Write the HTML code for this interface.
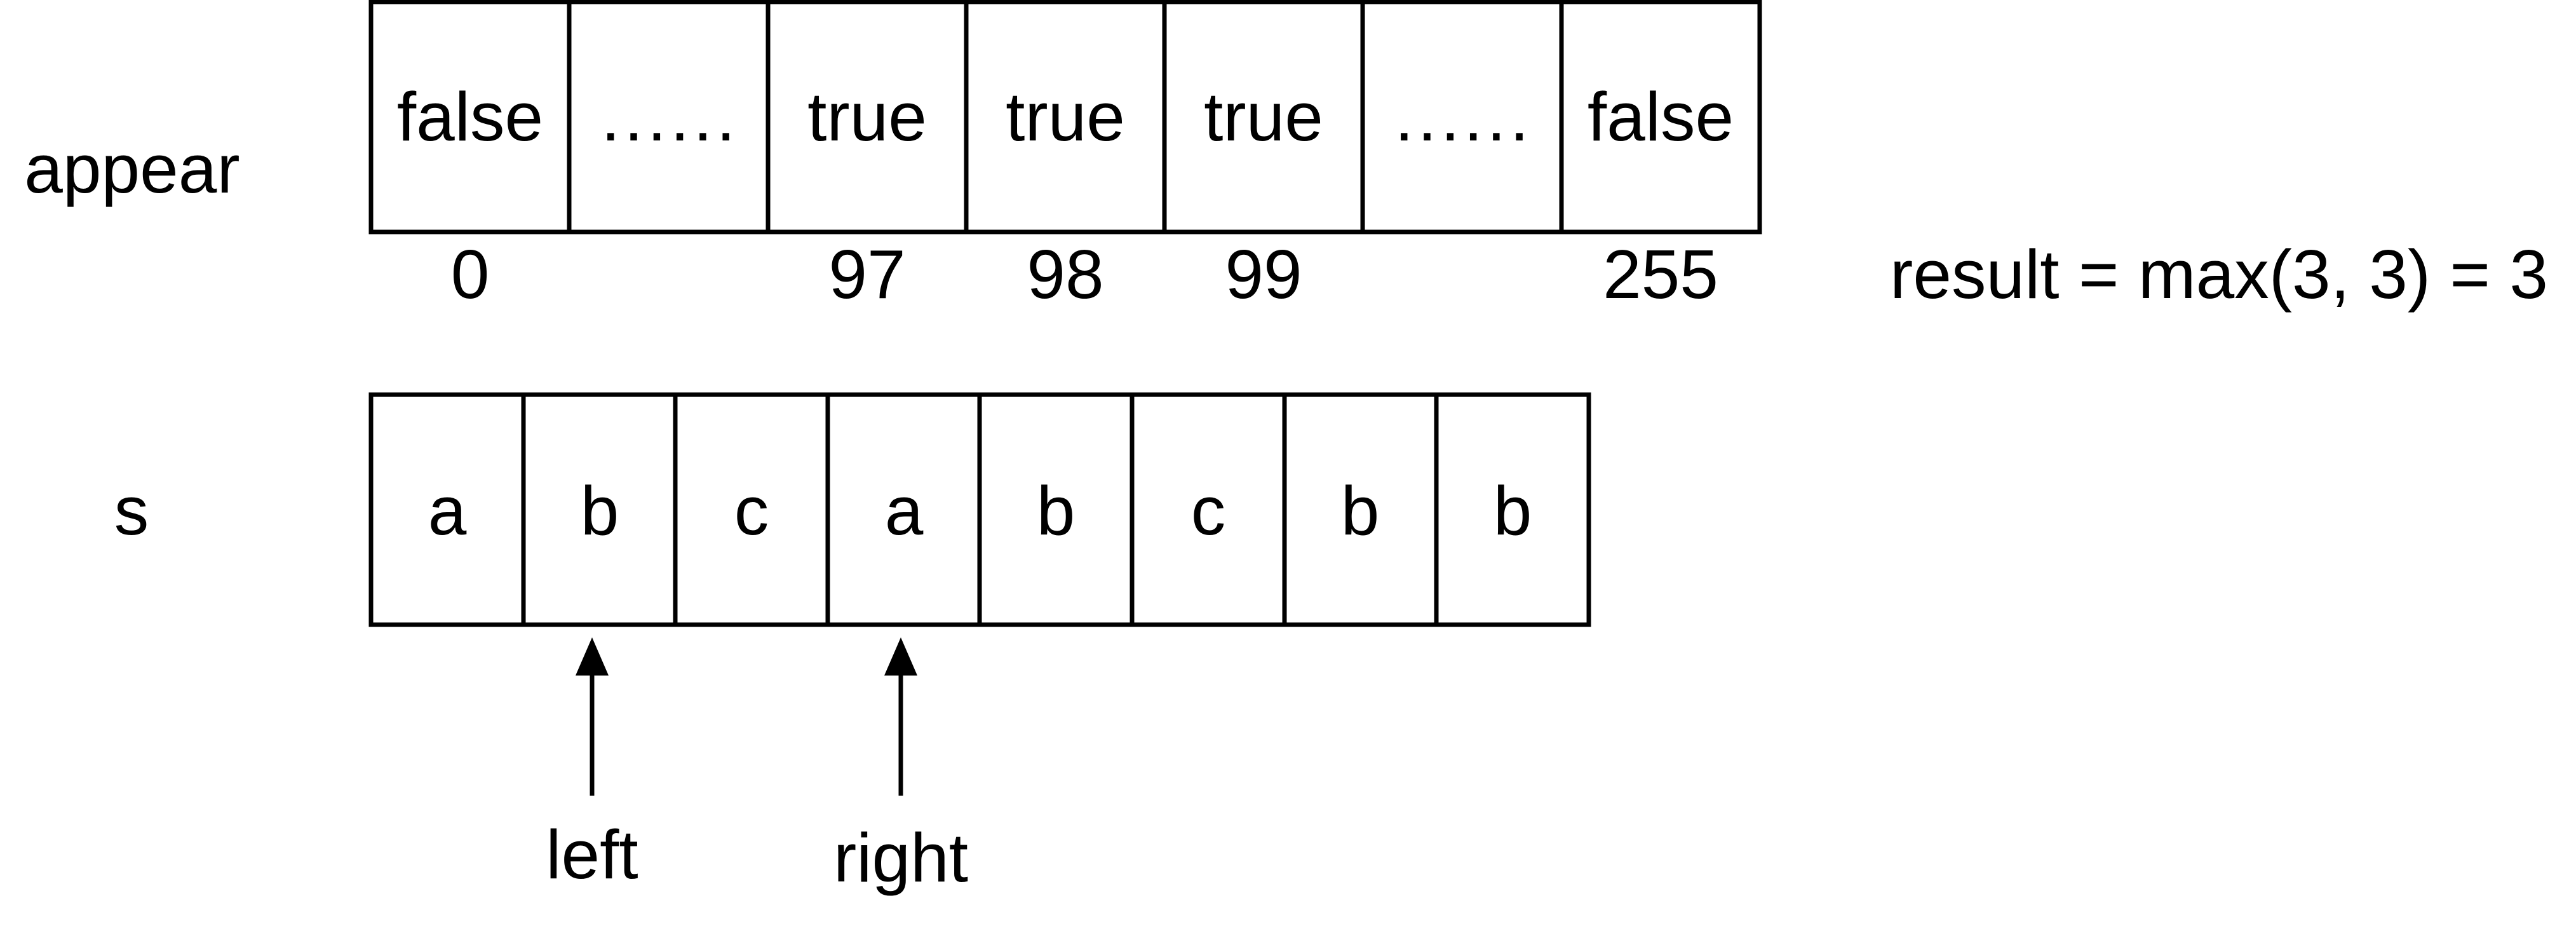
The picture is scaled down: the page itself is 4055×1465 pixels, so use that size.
<!DOCTYPE html>
<html><head><meta charset="utf-8"><style>html,body{margin:0;padding:0;background:#fff}svg{display:block}</style></head>
<body>
<svg width="4055" height="1465" viewBox="0 0 4055 1465" xmlns="http://www.w3.org/2000/svg" font-family="Liberation Sans, Arial, sans-serif" font-size="109" fill="#000">
<g stroke="#000" stroke-width="7" fill="none" stroke-linejoin="miter">
<rect x="584" y="3" width="2186" height="362"/>
<line x1="896" y1="3" x2="896" y2="365"/>
<line x1="1209" y1="3" x2="1209" y2="365"/>
<line x1="1521" y1="3" x2="1521" y2="365"/>
<line x1="1833" y1="3" x2="1833" y2="365"/>
<line x1="2145" y1="3" x2="2145" y2="365"/>
<line x1="2458" y1="3" x2="2458" y2="365"/>
<rect x="584" y="621" width="1917" height="362"/>
<line x1="824" y1="621" x2="824" y2="983"/>
<line x1="1063" y1="621" x2="1063" y2="983"/>
<line x1="1303" y1="621" x2="1303" y2="983"/>
<line x1="1542" y1="621" x2="1542" y2="983"/>
<line x1="1782" y1="621" x2="1782" y2="983"/>
<line x1="2022" y1="621" x2="2022" y2="983"/>
<line x1="2261" y1="621" x2="2261" y2="983"/>
<line x1="932" y1="1060" x2="932" y2="1252"/>
<line x1="1418" y1="1060" x2="1418" y2="1252"/>
</g>
<polygon points="932,1003 906,1063 958,1063"/>
<polygon points="1418,1003 1392,1063 1444,1063"/>
<g text-anchor="middle" dominant-baseline="central">
<text x="740" y="184">false</text>
<text x="1055" y="184" letter-spacing="6">......</text>
<text x="1365" y="184">true</text>
<text x="1677" y="184">true</text>
<text x="1989" y="184">true</text>
<text x="2304" y="184" letter-spacing="6">......</text>
<text x="2614" y="184">false</text>
<text x="740" y="432">0</text>
<text x="1365" y="432">97</text>
<text x="1677" y="432">98</text>
<text x="1989" y="432">99</text>
<text x="2614" y="432">255</text>
<text x="208" y="266">appear</text>
<text x="3493" y="432">result = max(3, 3) = 3</text>
<text x="207" y="804">s</text>
<text x="704" y="804">a</text>
<text x="944" y="804">b</text>
<text x="1183" y="804">c</text>
<text x="1423" y="804">a</text>
<text x="1662" y="804">b</text>
<text x="1902" y="804">c</text>
<text x="2141" y="804">b</text>
<text x="2381" y="804">b</text>
<text x="932" y="1345">left</text>
<text x="1418" y="1350">right</text>
</g>
</svg>
</body></html>
